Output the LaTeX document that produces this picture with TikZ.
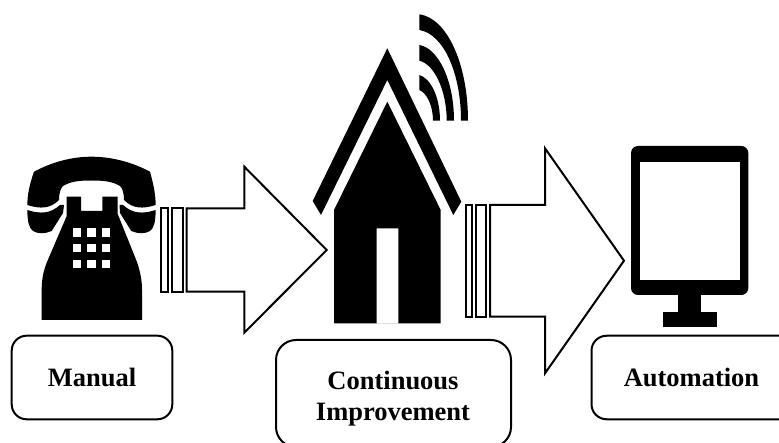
\documentclass[tikz,border=0pt]{standalone}
\usepackage{fontspec}
\setmainfont{Liberation Serif}
\tikzset{
  ink/.style={fill=black,draw=none},
  paper/.style={fill=white,draw=none},
  outlined/.style={draw=black,line width=2pt,fill=white,line join=miter},
  labelbox/.style={draw=black,line width=2pt,rounded corners=15pt,fill=white},
  labeltext/.style={font=\fontsize{26.5}{32}\selectfont\bfseries,align=center,inner sep=0pt}
}
\begin{document}
\begin{tikzpicture}[x=1pt,y=-1pt]
\useasboundingbox (0,0) rectangle (779,443);
\clip (0,0) rectangle (779,443);
% telephone
\fill[ink] (27.3,205) .. controls (27.5,195) and (29,186) .. (34,171.7)
  .. controls (52,162) and (72,156.7) .. (91.5,156.7)
  .. controls (111,156.7) and (132,162) .. (150,171.7)
  .. controls (154,186) and (155.5,195) .. (155.7,205)
  .. controls (143,209) and (133,209) .. (124,200)
  .. controls (124,192) and (122,188) .. (120,186)
  .. controls (112,181) and (102,180.5) .. (91.7,180.5)
  .. controls (81,180.5) and (71,181) .. (63,186)
  .. controls (61,188) and (59,192) .. (59,200)
  .. controls (50,209) and (40,209) .. (27.3,205) -- cycle;
\fill[ink] (27.3,210) .. controls (40,214) and (50,214) .. (60,205)
  -- (64,205) -- (63,213) -- (51.7,231) .. controls (45,234) and (38,234) .. (33,231)
  .. controls (29,228) and (27.5,222) .. (27.3,210) -- cycle;
\fill[ink] (155.7,210) .. controls (143,214) and (133,214) .. (123,205)
  -- (119.5,205) -- (120,213) -- (131.3,231) .. controls (138,234) and (145,234) .. (150,231)
  .. controls (154,228) and (155.5,222) .. (155.7,210) -- cycle;
\fill[ink] (66.7,196.7) -- (81,196.7) -- (81,211) -- (102.3,211) -- (102.3,196.7) -- (117.7,196.7)
  -- (117.7,214) -- (137,262) .. controls (141,274) and (142,282) .. (142,290)
  -- (142,320) -- (41.7,320) -- (41.7,290)
  .. controls (41.7,280) and (43,272) .. (47,262) -- (66.7,216) -- cycle;
\foreach \kx in {72.7,87.2,101.7}
  \foreach \ky in {228.3,244,260}
    \fill[paper] (\kx,\ky) rectangle +(8.6,8.4);
% first arrow
\draw[outlined] (161,208.3) rectangle (167.7,292.3);
\draw[outlined] (171.6,208.3) rectangle (183.3,292.3);
\draw[outlined] (186.7,208.3) -- (244.3,208.3) -- (244.3,166.7) -- (326.7,250)
  -- (244.3,332.7) -- (244.3,291.7) -- (186.7,291.7) -- cycle;
% house
\fill[ink] (387.3,48.3) -- (461.3,201.7) -- (453.3,215) -- (387.3,80) -- (321,215) -- (312.7,201) -- cycle;
\fill[ink,even odd rule] (387.3,101.7) -- (440.7,210) -- (440.7,323.3) -- (334,323.3) -- (334,210) -- cycle
  (376.7,228.3) rectangle (398.3,323.3);
% wifi waves
\fill[ink] (419.3,14.3) .. controls (447,18) and (468,64) .. (468,120.7) -- (461,120.7)
  .. controls (461,74) and (444,34) .. (419.3,30) -- cycle;
\fill[ink] (419.3,45) .. controls (438,48) and (454,80) .. (454,120.7) -- (446.7,120.7)
  .. controls (446.7,90) and (434,64) .. (419.3,60.7) -- cycle;
\fill[ink] (419.3,75) .. controls (430,78) and (440,96) .. (440,120.7) -- (433,120.7)
  .. controls (433,106) and (427,93) .. (419.3,90) -- cycle;
% second arrow
\draw[outlined] (465.7,205) rectangle (471.7,316.7);
\draw[outlined] (476,205) rectangle (486,316.7);
\draw[outlined] (490,205) -- (545,205) -- (545,148.3) -- (624,260.7)
  -- (545,373.3) -- (545,316.7) -- (490,316.7) -- cycle;
% monitor
\fill[ink,rounded corners=7pt] (631,146) rectangle (748.3,295);
\fill[paper] (639.7,162.3) rectangle (739.7,280);
\fill[ink] (678.3,290) rectangle (701,312);
\fill[ink] (663.3,311.7) rectangle (716.7,327.3);
% labelled boxes
\node[labelbox,minimum width=160.6pt,minimum height=83.6pt] (manual) at (92,377.5) {};
\node[labeltext,anchor=base] at (92,386.7) {Manual};
\node[labelbox,rounded corners=20pt,minimum width=235pt,minimum height=107pt] (improve) at (393.5,393.5) {};
\node[labeltext,anchor=base] at (393,389) {Continuous};
\node[labeltext,anchor=base] at (393,420.7) {Improvement};
\node[labelbox,minimum width=220pt,minimum height=83.5pt] (auto) at (701.5,377.5) {};
\node[labeltext,anchor=base] at (691.5,386.7) {Automation};
\end{tikzpicture}
\end{document}
